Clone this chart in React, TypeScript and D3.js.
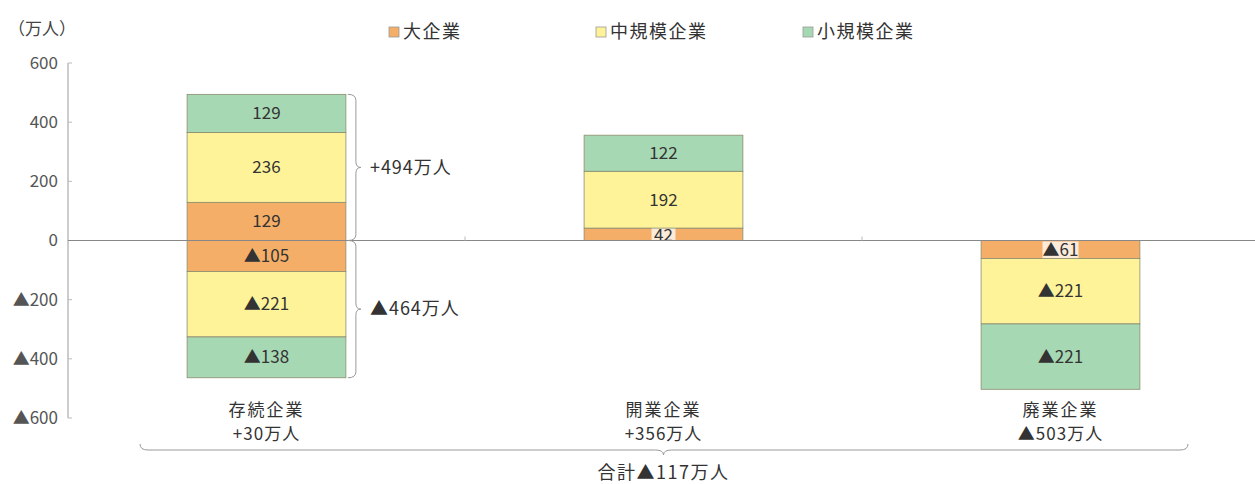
import * as d3 from 'd3';

const categories = ['存続企業', '開業企業', '廃業企業'];
const categoryTotals = ['+30万人', '+356万人', '▲503万人'];
const seriesNames = ['大企業', '中規模企業', '小規模企業'];
const seriesColors = ['#F4AE68', '#FFF39A', '#A7D8B4'];
const positiveValues = [
  [129, 42, 0],
  [236, 192, 0],
  [129, 122, 0],
];
const negativeValues = [
  [-105, 0, -61],
  [-221, 0, -221],
  [-138, 0, -221],
];
const yTicks = [600, 400, 200, 0, -200, -400, -600];
const braceLabels = ['+494万人', '▲464万人'];
const grandTotal = '合計▲117万人';

const W = 1255;
const H = 484;
const FONT = '"Noto Sans CJK JP", "Noto Sans", sans-serif';

const fmt = (v: number) => (v < 0 ? `▲${Math.abs(v)}` : `${v}`);

// vertical curly brace opening to the left, tip to the right
function vBrace(x: number, y1: number, y2: number, w: number) {
  const m = (y1 + y2) / 2;
  const r = 6;
  return `M${x},${y1} Q${x + w},${y1} ${x + w},${y1 + r} L${x + w},${m - r} Q${x + w},${m} ${x + w + 5},${m} Q${x + w},${m} ${x + w},${m + r} L${x + w},${y2 - r} Q${x + w},${y2} ${x},${y2}`;
}

// horizontal brace opening upward, tip downward
function hBrace(x1: number, x2: number, tipX: number, y: number, h: number) {
  const r = 8;
  return `M${x1},${y - h} Q${x1},${y} ${x1 + r},${y} L${tipX - r},${y} Q${tipX},${y} ${tipX},${y + 5} Q${tipX},${y} ${tipX + r},${y} L${x2 - r},${y} Q${x2},${y} ${x2},${y - h}`;
}

export default function App() {
  const x = d3.scaleBand<string>()
    .domain(categories)
    .range([68, 1259])
    .paddingInner(0.6)
    .paddingOuter(0.3);
  const y = d3.scaleLinear().domain([-600, 600]).range([418, 63]);

  type Seg = { cat: string; series: number; v0: number; v1: number; value: number };
  const segs: Seg[] = [];
  categories.forEach((cat, ci) => {
    let pos = 0;
    let neg = 0;
    seriesNames.forEach((_, si) => {
      const p = positiveValues[si][ci];
      if (p > 0) {
        segs.push({ cat, series: si, v0: pos, v1: pos + p, value: p });
        pos += p;
      }
      const n = negativeValues[si][ci];
      if (n < 0) {
        segs.push({ cat, series: si, v0: neg + n, v1: neg, value: n });
        neg += n;
      }
    });
  });

  const bw = x.bandwidth();
  const firstX = x(categories[0])!;
  const posTop = d3.sum(positiveValues, (s) => s[0]);
  const negBottom = d3.sum(negativeValues, (s) => s[0]);
  const midX = x(categories[1])! + bw / 2;

  return (
    <svg width={W} height={H} style={{ position: 'absolute', left: 0, top: 0, background: '#fff' }} fontFamily={FONT}>
      {/* unit label */}
      <text x={8} y={35} fontSize={17} fill="#444">（万人）</text>

      {/* legend */}
      {seriesNames.map((name, i) => {
        const lx = [389, 596, 803][i];
        return (
          <g key={name}>
            <rect x={lx} y={27} width={10} height={10} fill={seriesColors[i]} stroke="#999" strokeWidth={0.8} />
            <text x={lx + 14} y={38} fontSize={18} letterSpacing={1.5} fill="#333">{name}</text>
          </g>
        );
      })}

      {/* y axis */}
      <line x1={68} x2={68} y1={y(600)} y2={y(-600)} stroke="#999" strokeWidth={1} />
      {yTicks.map((t) => (
        <g key={t}>
          <line x1={68} x2={72} y1={y(t)} y2={y(t)} stroke="#bbb" strokeWidth={1} />
          <text x={58} y={y(t)} dy="0.35em" textAnchor="end" fontSize={17} fill="#555">{fmt(t)}</text>
        </g>
      ))}

      {/* bars */}
      {segs.map((s, i) => {
        const top = y(s.v1);
        const h = y(s.v0) - y(s.v1);
        const cx = x(s.cat)! + bw / 2;
        const cy = top + h / 2;
        const label = fmt(s.value);
        const small = h < 20;
        return (
          <g key={i}>
            <rect x={x(s.cat)!} y={top} width={bw} height={h} fill={seriesColors[s.series]} stroke="#8c8c6e" strokeWidth={0.8} />
            {small && (
              <rect x={cx - label.length * 6} y={cy - 8} width={label.length * 12} height={17} fill="#fff" opacity={0.75} />
            )}
            <text x={cx} y={cy + (small ? 1 : 0)} dy="0.35em" textAnchor="middle" fontSize={17} fill="#333">{label}</text>
          </g>
        );
      })}

      {/* zero line */}
      <line x1={68} x2={W} y1={y(0)} y2={y(0)} stroke="#888" strokeWidth={1} />
      {categories.slice(1).map((c) => (
        <line key={c} x1={x(c)! - x.step() * x.paddingInner() / 2} x2={x(c)! - x.step() * x.paddingInner() / 2} y1={y(0) - 4} y2={y(0)} stroke="#bbb" />
      ))}

      {/* braces for 存続企業 */}
      <path d={vBrace(firstX + bw + 2, y(posTop), y(0), 8)} fill="none" stroke="#999" strokeWidth={1} />
      <path d={vBrace(firstX + bw + 2, y(0), y(negBottom), 8)} fill="none" stroke="#999" strokeWidth={1} />
      <text x={firstX + bw + 24} y={(y(posTop) + y(0)) / 2} dy="0.35em" fontSize={18} letterSpacing={1} fill="#333">{braceLabels[0]}</text>
      <text x={firstX + bw + 24} y={(y(0) + y(negBottom)) / 2} dy="0.35em" fontSize={18} letterSpacing={1} fill="#333">{braceLabels[1]}</text>

      {/* category labels */}
      {categories.map((c, i) => (
        <g key={c}>
          <text x={x(c)! + bw / 2} y={416} textAnchor="middle" fontSize={17} letterSpacing={2} fill="#333">{c}</text>
          <text x={x(c)! + bw / 2} y={440} textAnchor="middle" fontSize={17} letterSpacing={1} fill="#333">{categoryTotals[i]}</text>
        </g>
      ))}

      {/* total brace */}
      <path d={hBrace(140, 1188, midX, 450, 6)} fill="none" stroke="#999" strokeWidth={1} />
      <text x={midX} y={479} textAnchor="middle" fontSize={18} letterSpacing={1.5} fill="#333">{grandTotal}</text>
    </svg>
  );
}
